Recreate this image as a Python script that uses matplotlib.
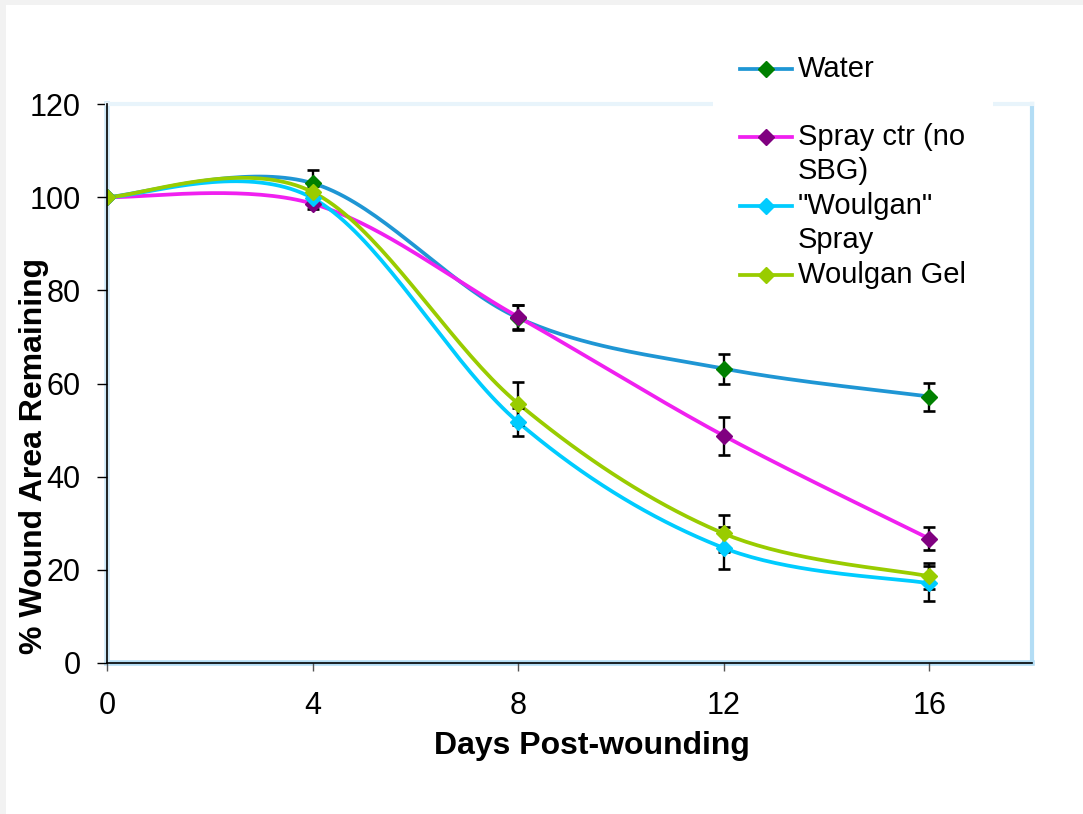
import numpy as np
import matplotlib
matplotlib.use("Agg")
import matplotlib.pyplot as plt
from matplotlib.lines import Line2D
from matplotlib.patches import Rectangle

plt.rcParams['font.family'] = ['Liberation Sans', 'DejaVu Sans']

days = [0, 4, 8, 12, 16]
series_names = ["Water", "Spray ctr (no\nSBG)", "\"Woulgan\"\nSpray", "Woulgan Gel"]
water = [100, 103.0, 74.1, 63.2, 57.2]
spray_ctr = [100, 98.6, 74.3, 48.8, 26.7]
woulgan_spray = [100, 99.8, 51.7, 24.7, 17.1]
woulgan_gel = [100, 101.1, 55.7, 27.8, 18.6]
err_water = [0, 2.8, 2.7, 3.2, 3.0]
err_spray_ctr = [0, 1.2, 2.6, 4.1, 2.4]
err_woulgan_spray = [0, 1.2, 3.0, 4.5, 3.7]
err_woulgan_gel = [0, 1.2, 4.7, 3.9, 2.8]
x_ticks = [0, 4, 8, 12, 16]
y_ticks = [0, 20, 40, 60, 80, 100, 120]

line_colors = ["#1f96d4", "#f020f0", "#00ccff", "#99cc00"]
marker_colors = ["#008000", "#800080", "#00ccff", "#99cc00"]

W, H = 1083, 814


def smooth(xs, ys, n=40):
    """Excel-style smoothed line (Catmull-Rom Bezier) between the given points."""
    P = np.column_stack([xs, ys]).astype(float)
    m = len(P)
    out = []
    for i in range(m - 1):
        p0 = P[i - 1] if i > 0 else P[i]
        p1, p2 = P[i], P[i + 1]
        p3 = P[i + 2] if i + 2 < m else P[i + 1]
        c1 = p1 + (p2 - p0) / 6.0
        c2 = p2 - (p3 - p1) / 6.0
        t = np.linspace(0, 1, n)[:, None]
        seg = ((1 - t) ** 3) * p1 + 3 * ((1 - t) ** 2) * t * c1 + 3 * (1 - t) * t ** 2 * c2 + t ** 3 * p2
        out.append(seg if i == 0 else seg[1:])
    S = np.vstack(out)
    return S[:, 0], S[:, 1]


fig = plt.figure(figsize=(W / 100, H / 100), dpi=100)
fig.patch.set_facecolor("#f2f2f2")
fig.patches.append(Rectangle((6 / W, 0), 1, (H - 5) / H,
                             transform=fig.transFigure, facecolor="white",
                             edgecolor="none", zorder=-10))

ax = fig.add_axes([107 / W, 1 - 663 / H, (1032 - 107) / W, (663 - 104) / H])
ax.set_facecolor("none")

all_y = [water, spray_ctr, woulgan_spray, woulgan_gel]
all_e = [err_water, err_spray_ctr, err_woulgan_spray, err_woulgan_gel]

LW = 2.7
MS = 8

for k, (ys, es) in enumerate(zip(all_y, all_e)):
    xs_s, ys_s = smooth(days, ys)
    ax.plot(xs_s, ys_s, color=line_colors[k], lw=LW, zorder=3, solid_capstyle="round")
for k, (ys, es) in enumerate(zip(all_y, all_e)):
    ax.errorbar(days[1:], ys[1:], yerr=es[1:], fmt="none", ecolor="black",
                elinewidth=1.7, capsize=4.5, capthick=1.9, zorder=4)
for k, ys in enumerate(all_y):
    ax.plot(days, ys, ls="none", marker="D", ms=MS, mfc=marker_colors[k],
            mec=marker_colors[k], zorder=5)

ax.set_xlim(0, 18)
ax.set_ylim(0, 120)
ax.set_xticks(x_ticks)
ax.set_yticks(y_ticks)
ax.tick_params(axis="y", direction="out", length=7, width=1, color="black",
               labelsize=22, pad=12)
ax.tick_params(axis="x", direction="out", length=6, width=1, color="#555555",
               labelsize=22, pad=14)

for s in ["left", "bottom"]:
    ax.spines[s].set_color("black")
    ax.spines[s].set_linewidth(1.2)
    ax.spines[s].set_zorder(6)
ax.spines["top"].set_color("#e8f4fb")
ax.spines["top"].set_linewidth(3)
ax.spines["right"].set_color("#b3ddf5")
ax.spines["right"].set_linewidth(3)
# light blue backing along the left/bottom spines
ax.plot([0, 18], [0, 0], color="#b3ddf5", lw=4, zorder=1, clip_on=False)
ax.plot([0, 0], [0, 120], color="#cfe9f8", lw=4, zorder=1, clip_on=False)

fig.text(592 / W, 1 - 746 / H, "Days Post-wounding", ha="center", va="center",
         fontsize=23, fontweight="bold")
fig.text(34 / W, 1 - 456 / H, "% Wound Area Remaining", ha="center", va="center",
         rotation=90, fontsize=23, fontweight="bold")

# legend background covering the frame
fig.patches.append(Rectangle((713 / W, 1 - 300 / H), (993 - 713) / W, (300 - 92) / H,
                             transform=fig.transFigure, facecolor="white",
                             edgecolor="none", zorder=2))

legend_y = [69, 137, 206, 275]
line_step = 34
for k, name in enumerate(series_names):
    yy = 1 - legend_y[k] / H
    fig.lines.append(Line2D([740 / W, 792 / W], [yy, yy], transform=fig.transFigure,
                            color=line_colors[k], lw=LW, zorder=6))
    fig.lines.append(Line2D([766 / W], [yy], transform=fig.transFigure, ls="none",
                            marker="D", ms=MS, mfc=marker_colors[k],
                            mec=marker_colors[k], zorder=7))
    for j, part in enumerate(name.split("\n")):
        fig.text(798 / W, 1 - (legend_y[k] + j * line_step) / H, part,
                 ha="left", va="center", fontsize=21, zorder=7)

fig.savefig("out.png", dpi=100, facecolor=fig.get_facecolor())
